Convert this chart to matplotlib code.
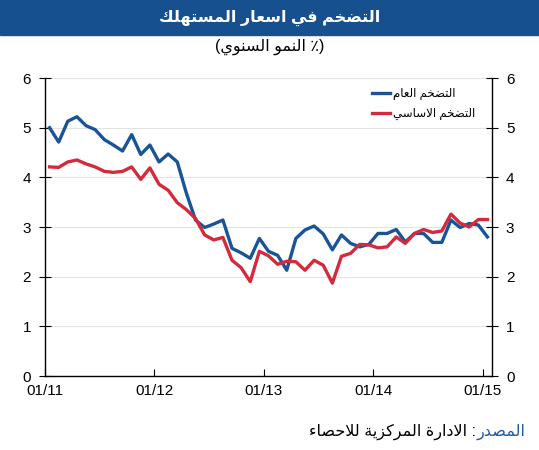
import numpy as np
import matplotlib
matplotlib.use("Agg")
import matplotlib.pyplot as plt
from matplotlib.patches import Rectangle

plt.rcParams['font.family'] = ['Liberation Sans', 'DejaVu Sans']

# monthly data, 01/2011 .. 01/2015 (% y/y)
headline = [5.0, 4.71, 5.13, 5.22, 5.04, 4.96, 4.76, 4.65, 4.53, 4.86, 4.46, 4.65,
            4.31, 4.47, 4.31, 3.68, 3.14, 2.99, 3.06, 3.14, 2.57, 2.48, 2.37, 2.77,
            2.51, 2.43, 2.13, 2.77, 2.94, 3.02, 2.86, 2.54, 2.84, 2.67, 2.6, 2.65,
            2.87, 2.87, 2.95, 2.7, 2.87, 2.87, 2.69, 2.69, 3.14, 2.99, 3.07, 3.04,
            2.8]
core = [4.21, 4.2, 4.31, 4.35, 4.27, 4.21, 4.12, 4.1, 4.12, 4.21, 3.96, 4.19,
        3.86, 3.74, 3.49, 3.35, 3.17, 2.84, 2.74, 2.79, 2.33, 2.18, 1.9, 2.51,
        2.42, 2.25, 2.31, 2.3, 2.13, 2.33, 2.23, 1.87, 2.41, 2.47, 2.65, 2.64,
        2.58, 2.6, 2.8, 2.67, 2.87, 2.95, 2.89, 2.92, 3.26, 3.08, 3.0, 3.15,
        3.15]
xtick_labels = ['01/11', '01/12', '01/13', '01/14', '01/15']

title = "التضخم في اسعار المستهلك"
subtitle = "(٪ النمو السنوي)"
label_headline = "التضخم العام"
label_core = "التضخم الاساسي"
source_head = "المصدر"
source_body = ": الادارة المركزية للاحصاء"

# (isolated, final, initial, medial) presentation forms
FORMS = {
    'ء': (0xFE80, None, None, None),
    'ا': (0xFE8D, 0xFE8E, None, None),
    'ب': (0xFE8F, 0xFE90, 0xFE91, 0xFE92),
    'ة': (0xFE93, 0xFE94, None, None),
    'ت': (0xFE95, 0xFE96, 0xFE97, 0xFE98),
    'ح': (0xFEA1, 0xFEA2, 0xFEA3, 0xFEA4),
    'خ': (0xFEA5, 0xFEA6, 0xFEA7, 0xFEA8),
    'د': (0xFEA9, 0xFEAA, None, None),
    'ر': (0xFEAD, 0xFEAE, None, None),
    'ز': (0xFEAF, 0xFEB0, None, None),
    'س': (0xFEB1, 0xFEB2, 0xFEB3, 0xFEB4),
    'ص': (0xFEB9, 0xFEBA, 0xFEBB, 0xFEBC),
    'ض': (0xFEBD, 0xFEBE, 0xFEBF, 0xFEC0),
    'ع': (0xFEC9, 0xFECA, 0xFECB, 0xFECC),
    'ف': (0xFED1, 0xFED2, 0xFED3, 0xFED4),
    'ك': (0xFED9, 0xFEDA, 0xFEDB, 0xFEDC),
    'ل': (0xFEDD, 0xFEDE, 0xFEDF, 0xFEE0),
    'م': (0xFEE1, 0xFEE2, 0xFEE3, 0xFEE4),
    'ن': (0xFEE5, 0xFEE6, 0xFEE7, 0xFEE8),
    'ه': (0xFEE9, 0xFEEA, 0xFEEB, 0xFEEC),
    'و': (0xFEED, 0xFEEE, None, None),
    'ي': (0xFEF1, 0xFEF2, 0xFEF3, 0xFEF4),
    'لا': (0xFEFB, 0xFEFC, None, None),
}
MIRROR = {'(': ')', ')': '('}


def shape(text):
    # merge lam-alef, pick joining forms, then reverse for display
    chars = []
    i = 0
    while i < len(text):
        if text[i] == 'ل' and i + 1 < len(text) and text[i + 1] == 'ا':
            chars.append('لا')
            i += 2
        else:
            chars.append(text[i])
            i += 1
    out = []
    for k, c in enumerate(chars):
        if c not in FORMS:
            out.append(MIRROR.get(c, c))
            continue
        prev = chars[k - 1] if k > 0 else None
        nxt = chars[k + 1] if k + 1 < len(chars) else None
        jp = prev in FORMS and FORMS[prev][2] is not None
        jn = nxt in FORMS and FORMS[c][2] is not None and FORMS[nxt][1] is not None
        iso, fin, ini, med = FORMS[c]
        if jp and jn:
            code = med
        elif jp:
            code = fin
        elif jn:
            code = ini
        else:
            code = iso
        out.append(chr(code))
    return ''.join(reversed(out))


blue = '#1a5497'
red = '#d42a3c'

fig = plt.figure(figsize=(5.39, 4.5), dpi=100)
fig.add_artist(Rectangle((0, 1 - 35 / 450), 1, 35 / 450, transform=fig.transFigure,
                         color='#17508f', zorder=0))
fig.text(0.5, 1 - 18 / 450, shape(title), color='white', fontsize=11.5,
         fontweight='bold', ha='center', va='center')
fig.text(0.5, 1 - 47 / 450, shape(subtitle), color='black', fontsize=11.5,
         ha='center', va='center')

ax = fig.add_axes([45 / 539, 1 - 376 / 450, 447 / 539, 298 / 450])
x = np.arange(len(headline)) + 0.5
ax.plot(x, headline, color=blue, lw=2.4, label=shape(label_headline))
ax.plot(x, core, color=red, lw=2.4, label=shape(label_core))

ax.set_xlim(0, 49)
ax.set_ylim(0, 6)
ax.set_xticks([0, 12, 24, 36, 48])
ax.set_xticklabels(xtick_labels)
ax.set_yticks(range(7))
ax.tick_params(axis='x', direction='in', length=5, labelsize=11, pad=6)
ax.tick_params(axis='y', direction='inout', length=8, labelsize=11, pad=6,
               left=True, right=True, labelleft=True, labelright=True)
ax.yaxis.grid(True, color='#e3e3e3', lw=0.8)
ax.set_axisbelow(True)
ax.spines['top'].set_visible(False)
for s in ['left', 'right', 'bottom']:
    ax.spines[s].set_color('black')
    ax.spines[s].set_linewidth(1.0)

leg = ax.legend(loc='upper left', bbox_to_anchor=(0.732, 0.967), frameon=False,
                fontsize=8.5, handlelength=1.5, handletextpad=0.3,
                labelspacing=0.7, borderpad=0, borderaxespad=0)

t1 = fig.text(1 - 14 / 539, 1 - 432 / 450, shape(source_head), color='#1f5aa8',
              fontsize=11.5, ha='right', va='center')
ax.annotate(shape(source_body), xy=(0, 0.5), xycoords=t1, color='black',
            fontsize=11.5, ha='right', va='center')

fig.savefig('out.png', dpi=100)
